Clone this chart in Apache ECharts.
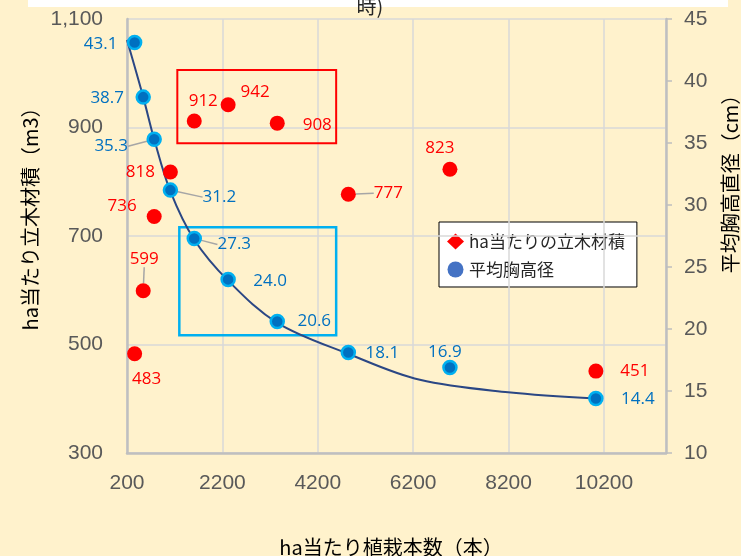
<!DOCTYPE html>
<html>
<head>
<meta charset="utf-8">
<script src="https://cdn.jsdelivr.net/npm/echarts@6/dist/echarts.min.js"></script>
<style>
  html, body { margin: 0; padding: 0; background: #FFF2CC; }
  #chart { width: 741px; height: 556px; }
</style>
</head>
<body>
<div id="chart"></div>
<script>
// Planting density trial: stand volume and mean DBH per hectare
const plantingDensity = [360, 540, 770, 1110, 1610, 2320, 3350, 4840, 6970, 10030];
const standVolume     = [483, 599, 736, 818, 912, 942, 908, 777, 823, 451];
const meanDbh         = [43.1, 38.7, 35.3, 31.2, 27.3, 24.0, 20.6, 18.1, 16.9, 14.4];

// DBH trend curve, sampled along its drawn path
const trendDensity = [200, 540, 770, 1110, 1610, 2320, 3350, 4840, 6340, 8190, 10030];
const trendDbh     = [43.3, 38.7, 35.3, 31.1, 27.2, 23.9, 20.5, 18.0, 15.9, 14.9, 14.4];

// Highlight boxes [x0, x1] / [y0, y1]
const volumeBoxX = [1255, 4585];
const volumeBoxY = [871, 1006];
const dbhBoxX = [1297, 4585];
const dbhBoxY = [19.5, 28.2];

// Label placement (pixel shifts from each marker centre) and leader-line flags
const volumeLabelShift = [[12, 25], [1, -32], [-32, -10], [-30, 0], [9, -20], [27, -13], [40, 2], [40, -1], [-10, -21], [39, 0]];
const volumeLeader = [false, true, false, false, false, false, false, true, false, false];
const dbhLabelShift = [[-34, 2], [-36, 1], [-43, 7], [49, 7], [40, 6], [42, 2], [37, 0], [34, 1], [-5, -15], [42, 1]];
const dbhLeader = [false, false, true, true, true, false, false, false, false, false];

const volumeName = 'ha当たりの立木材積';
const dbhName = '平均胸高径';

const tickFont = 'Liberation Sans, Arial, sans-serif';
const labelFont = 'Open Sans, sans-serif';
const cjkFont = 'Noto Sans CJK JP, sans-serif';

function buildPoints(xs, ys, leaders) {
  return xs.map((x, i) => ({
    value: [x, ys[i]],
    labelLine: { show: leaders[i] }
  }));
}

const chart = echarts.init(document.getElementById('chart'), null, { renderer: 'canvas' });

const option = {
  backgroundColor: '#FFF2CC',
  animation: false,
  grid: { left: 127, right: 75, top: 19, bottom: 103, containLabel: false },
  legend: {
    z: 0,
    orient: 'vertical',
    left: 439,
    top: 222,
    padding: [11, 12, 9, 8],
    itemGap: 11,
    itemWidth: 17,
    itemHeight: 16,
    backgroundColor: '#FFFFFF',
    borderColor: '#000000',
    borderWidth: 1,
    borderRadius: 0,
    textStyle: { fontFamily: cjkFont, fontSize: 17, color: '#262626', padding: [0, 0, 0, 0] },
    data: [
      { name: volumeName, icon: 'diamond', itemStyle: { color: '#FF0000', borderWidth: 0, opacity: 1 } },
      { name: dbhName, icon: 'circle', itemStyle: { color: '#4472C4', borderWidth: 0, opacity: 1 } }
    ]
  },
  xAxis: {
    type: 'value',
    z: 1,
    min: 200,
    max: 11500,
    interval: 2000,
    axisLine: { show: true, lineStyle: { color: '#BFBFBF', width: 2.5 } },
    axisTick: { show: false },
    splitLine: { show: true, lineStyle: { color: '#D9D9D9', width: 1.5 } },
    axisLabel: {
      margin: 20,
      showMaxLabel: false,
      color: '#595959',
      fontFamily: tickFont,
      fontSize: 21,
      formatter: v => String(v)
    }
  },
  yAxis: [
    {
      type: 'value',
      z: 1,
      min: 300,
      max: 1100,
      interval: 200,
      axisLine: { show: true, lineStyle: { color: '#BFBFBF', width: 2.5 } },
      axisTick: { show: false },
      splitLine: { show: true, lineStyle: { color: '#D9D9D9', width: 1.5 } },
      axisLabel: {
        margin: 24,
        color: '#595959',
        fontFamily: tickFont,
        fontSize: 21,
        formatter: v => v.toLocaleString('en-US')
      }
    },
    {
      type: 'value',
      z: 1,
      position: 'right',
      min: 10,
      max: 45,
      interval: 5,
      axisLine: { show: true, lineStyle: { color: '#BFBFBF', width: 2.5 } },
      axisTick: { show: true, inside: false, length: 6, lineStyle: { color: '#BFBFBF', width: 1.5 } },
      splitLine: { show: false },
      axisLabel: {
        margin: 18,
        color: '#595959',
        fontFamily: tickFont,
        fontSize: 21
      }
    }
  ],
  graphic: [
    { type: 'rect', z: 100, shape: { x: 28, y: 0, width: 700, height: 7 }, style: { fill: '#FFFFFF' } },
    {
      type: 'text', z: 101, x: 370, y: 16,
      style: { text: '時)', font: '20px ' + cjkFont, fill: '#262626', align: 'center', verticalAlign: 'bottom' }
    },
    {
      type: 'text', z: 101, x: 30, y: 214, rotation: Math.PI / 2,
      style: { text: 'ha当たり立木材積（m3）', font: '20px ' + cjkFont, fill: '#000000', align: 'center', verticalAlign: 'middle' }
    },
    {
      type: 'text', z: 101, x: 730, y: 179, rotation: Math.PI / 2,
      style: { text: '平均胸高直径（cm）', font: '20px ' + cjkFont, fill: '#000000', align: 'center', verticalAlign: 'middle' }
    },
    {
      type: 'text', z: 101, x: 391, y: 547,
      style: { text: 'ha当たり植栽本数（本）', font: '20px ' + cjkFont, fill: '#000000', align: 'center', verticalAlign: 'middle' }
    }
  ],
  series: [
    {
      name: volumeName,
      type: 'scatter',
      yAxisIndex: 0,
      z: 3,
      symbol: 'circle',
      symbolSize: 15,
      itemStyle: { color: '#FF0000', opacity: 1 },
      label: {
        show: true,
        position: 'inside',
        color: '#FF0000',
        fontFamily: labelFont,
        fontSize: 17,
        formatter: p => String(p.value[1])
      },
      labelLine: { show: false, lineStyle: { color: '#A6A6A6', width: 1.5 } },
      labelLayout: p => ({ dx: volumeLabelShift[p.dataIndex][0], dy: volumeLabelShift[p.dataIndex][1] }),
      emphasis: { disabled: true },
      markArea: {
        silent: true,
        label: { show: false },
        itemStyle: { color: 'rgba(0,0,0,0)', borderColor: '#FF0000', borderWidth: 2, opacity: 1 },
        data: [[{ coord: [volumeBoxX[0], volumeBoxY[1]] }, { coord: [volumeBoxX[1], volumeBoxY[0]] }]]
      },
      data: buildPoints(plantingDensity, standVolume, volumeLeader)
    },
    {
      name: 'trend',
      type: 'line',
      yAxisIndex: 1,
      z: 2,
      smooth: 0.35,
      showSymbol: false,
      symbol: 'none',
      lineStyle: { color: '#2B4784', width: 2 },
      emphasis: { disabled: true },
      silent: true,
      data: trendDensity.map((x, i) => [x, trendDbh[i]])
    },
    {
      name: dbhName,
      type: 'scatter',
      yAxisIndex: 1,
      z: 4,
      symbol: 'circle',
      symbolSize: 13,
      itemStyle: { color: '#0070C0', borderColor: '#00B0F0', borderWidth: 2.5, opacity: 1 },
      label: {
        show: true,
        position: 'inside',
        color: '#0070C0',
        fontFamily: labelFont,
        fontSize: 17,
        formatter: p => p.value[1].toFixed(1)
      },
      labelLine: { show: false, lineStyle: { color: '#A6A6A6', width: 1.5 } },
      labelLayout: p => ({ dx: dbhLabelShift[p.dataIndex][0], dy: dbhLabelShift[p.dataIndex][1] }),
      emphasis: { disabled: true },
      markArea: {
        silent: true,
        label: { show: false },
        itemStyle: { color: 'rgba(0,0,0,0)', borderColor: '#00B0F0', borderWidth: 2.5, opacity: 1 },
        data: [[{ coord: [dbhBoxX[0], dbhBoxY[1]] }, { coord: [dbhBoxX[1], dbhBoxY[0]] }]]
      },
      data: buildPoints(plantingDensity, meanDbh, dbhLeader)
    }
  ]
};

chart.setOption(option);
</script>
</body>
</html>
